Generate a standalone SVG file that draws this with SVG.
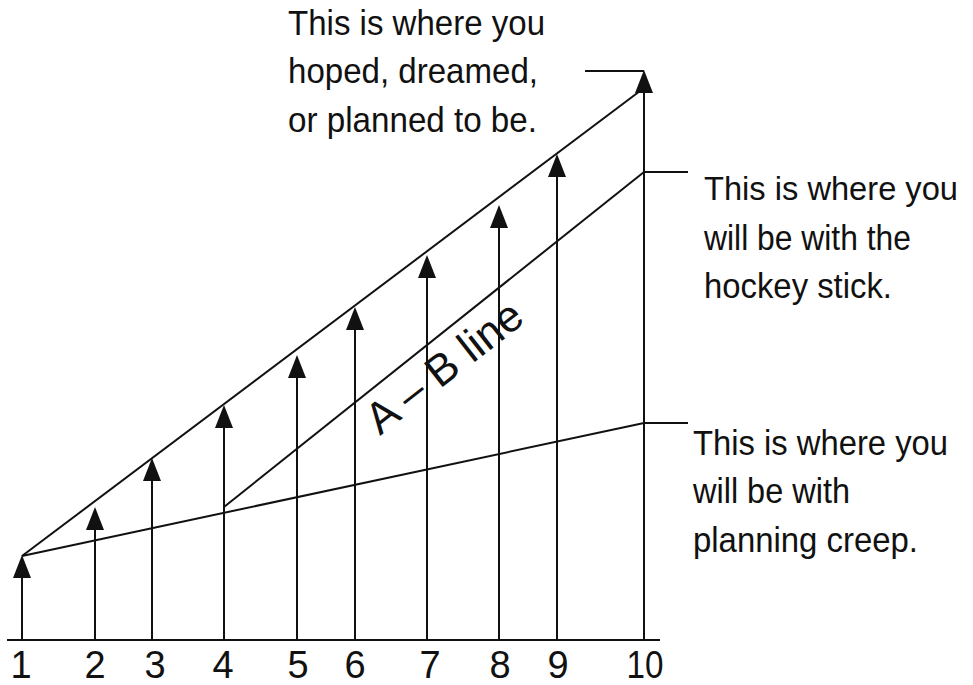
<svg xmlns="http://www.w3.org/2000/svg" width="973" height="685" viewBox="0 0 973 685">
<style>
.ln{stroke:#111;stroke-width:2;fill:none;stroke-linecap:butt}
.ah{fill:#111;stroke:none}
.t{font-family:"Liberation Sans",Arial,sans-serif;font-size:35px;fill:#111}
.t34{font-family:"Liberation Sans",Arial,sans-serif;font-size:34px;fill:#111}
.ab{font-family:"Liberation Sans",Arial,sans-serif;font-size:44px;fill:#111}
.n{font-family:"Liberation Sans",Arial,sans-serif;font-size:38px;fill:#111;text-anchor:middle}
</style>
<rect width="973" height="685" fill="#fff"/>
<g id="connectors">
<line class="ln" x1="7" y1="640" x2="660" y2="640"/>
<line class="ln" x1="22" y1="556" x2="644" y2="88"/>
<line class="ln" x1="22" y1="556" x2="644" y2="423"/>
<line class="ln" x1="224" y1="507" x2="644" y2="172"/>
<line class="ln" x1="585" y1="71" x2="644" y2="71"/>
<line class="ln" x1="644" y1="172" x2="688" y2="172"/>
<line class="ln" x1="644" y1="423" x2="688" y2="423"/>
</g>
<g id="arrow1"><line class="ln" x1="22" y1="640" x2="22" y2="570"/><path class="ah" d="M22,555 L13,578 L31,578 Z"/></g>
<g id="arrow2"><line class="ln" x1="95" y1="640" x2="95" y2="520"/><path class="ah" d="M95,507 L86,530 L104,530 Z"/></g>
<g id="arrow3"><line class="ln" x1="152" y1="640" x2="152" y2="470"/><path class="ah" d="M152,458 L143,481 L161,481 Z"/></g>
<g id="arrow4"><line class="ln" x1="224" y1="640" x2="224" y2="420"/><path class="ah" d="M224,405 L215,428 L233,428 Z"/></g>
<g id="arrow5"><line class="ln" x1="297" y1="640" x2="297" y2="370"/><path class="ah" d="M297,355 L288,378 L306,378 Z"/></g>
<g id="arrow6"><line class="ln" x1="355" y1="640" x2="355" y2="320"/><path class="ah" d="M355,307 L346,330 L364,330 Z"/></g>
<g id="arrow7"><line class="ln" x1="427" y1="640" x2="427" y2="270"/><path class="ah" d="M427,255 L418,278 L436,278 Z"/></g>
<g id="arrow8"><line class="ln" x1="499" y1="640" x2="499" y2="220"/><path class="ah" d="M499,205 L490,228 L508,228 Z"/></g>
<g id="arrow9"><line class="ln" x1="557" y1="640" x2="557" y2="170"/><path class="ah" d="M557,154 L548,177 L566,177 Z"/></g>
<g id="arrow10"><line class="ln" x1="644" y1="640" x2="644" y2="85"/><path class="ah" d="M644,70 L635,93 L653,93 Z"/></g>
<g id="axis-labels">
<text class="n" x="21" y="678">1</text>
<text class="n" x="95" y="678">2</text>
<text class="n" x="155" y="678">3</text>
<text class="n" x="223" y="678">4</text>
<text class="n" x="298" y="678">5</text>
<text class="n" x="355" y="678">6</text>
<text class="n" x="430" y="678">7</text>
<text class="n" x="500" y="678">8</text>
<text class="n" x="558" y="678">9</text>
<text class="n" x="645" y="678" textLength="37" lengthAdjust="spacingAndGlyphs">10</text>
</g>
<g id="label-hoped">
<text class="t" x="288" y="35" textLength="257" lengthAdjust="spacingAndGlyphs">This is where you</text>
<text class="t" x="288" y="83" textLength="250" lengthAdjust="spacingAndGlyphs">hoped, dreamed,</text>
<text class="t" x="288" y="132" textLength="249" lengthAdjust="spacingAndGlyphs">or planned to be.</text>
</g>
<g id="label-hockey">
<text class="t34" x="704" y="200" textLength="254" lengthAdjust="spacingAndGlyphs">This is where you</text>
<text class="t" x="704" y="250" textLength="207" lengthAdjust="spacingAndGlyphs">will be with the</text>
<text class="t" x="704" y="298" textLength="188" lengthAdjust="spacingAndGlyphs">hockey stick.</text>
</g>
<g id="label-creep">
<text class="t" x="693" y="455" textLength="255" lengthAdjust="spacingAndGlyphs">This is where you</text>
<text class="t" x="693" y="503" textLength="157" lengthAdjust="spacingAndGlyphs">will be with</text>
<text class="t" x="693" y="552" textLength="225" lengthAdjust="spacingAndGlyphs">planning creep.</text>
</g>
<g id="label-ab">
<text class="ab" x="380" y="436" transform="rotate(-38 380 436)">A – B line</text>
</g>
</svg>
